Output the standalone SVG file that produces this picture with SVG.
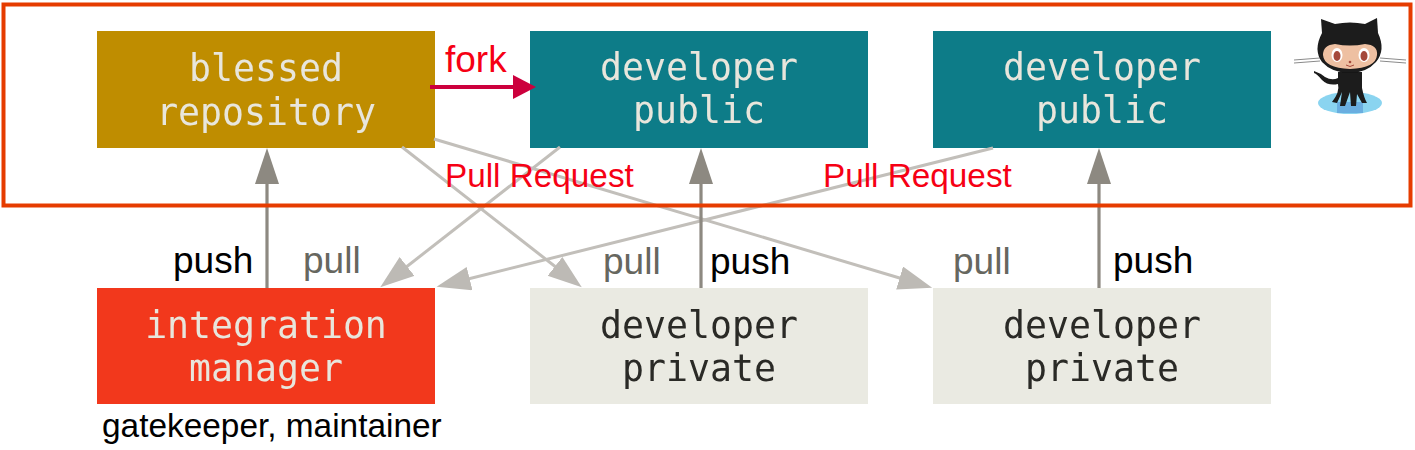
<svg xmlns="http://www.w3.org/2000/svg" width="1415" height="450" viewBox="0 0 1415 450">
<style>
.mono{font-family:"DejaVu Sans Mono","Liberation Mono",monospace;font-size:36.500px;text-anchor:middle}
.sans{font-family:"Liberation Sans",Arial,sans-serif;font-size:37px}
.rq{font-family:"Liberation Sans",Arial,sans-serif;font-size:33.300px;fill:#f60014}
.light{fill:#e8e6dc}.dark{fill:#2a2926}
.up{stroke:#8d8981;stroke-width:3.200;fill:none;marker-end:url(#up)}
.dn{stroke:#c2bfba;stroke-width:3;fill:none;marker-end:url(#dn)}
.blk{fill:#000}.gr{fill:#67675f}
.soft{filter:url(#soft)}
.softer{filter:url(#softer)}
</style>
<defs>
<filter id="soft" x="-5%" y="-5%" width="110%" height="110%"><feGaussianBlur stdDeviation="0.650"/></filter>
<filter id="softer" x="-5%" y="-5%" width="110%" height="110%"><feGaussianBlur stdDeviation="0.350"/></filter>
<marker id="up" markerUnits="userSpaceOnUse" markerWidth="40" markerHeight="28" refX="19" refY="12" orient="auto"><path d="M0 0L36 12L0 24Z" fill="#8d8981"/></marker>
<marker id="dn" markerUnits="userSpaceOnUse" markerWidth="38" markerHeight="28" refX="14" refY="12" orient="auto"><path d="M0 0L34 12L0 24Z" fill="#bdbab5"/></marker>
<marker id="red" markerUnits="userSpaceOnUse" markerWidth="26" markerHeight="26" refX="11" refY="12" orient="auto"><path d="M0 0L23 12L0 24Z" fill="#cc003d"/></marker>
</defs>
<g id="blessed" class="soft"><rect x="97" y="31" width="338" height="117" fill="#bf8d06"/><text class="mono light" x="266" y="81">blessed</text><text class="mono light" x="266" y="125">repository</text></g>
<g id="public1" class="soft"><rect x="530" y="31" width="338" height="117" fill="#117c88"/><text class="mono light" x="699" y="80">developer</text><text class="mono light" x="699" y="123">public</text></g>
<g id="public2" class="soft"><rect x="933" y="31" width="338" height="117" fill="#117c88"/><text class="mono light" x="1102" y="80">developer</text><text class="mono light" x="1102" y="123">public</text></g>
<g id="manager" class="soft"><rect x="97" y="288" width="338" height="116" fill="#f2371f"/><text class="mono light" x="266" y="338">integration</text><text class="mono light" x="266" y="381">manager</text></g>
<g id="private1" class="soft"><rect x="530" y="288" width="338" height="116" fill="#eaeae2"/><text class="mono dark" x="699" y="338">developer</text><text class="mono dark" x="699" y="381">private</text></g>
<g id="private2" class="soft"><rect x="933" y="288" width="338" height="116" fill="#eaeae2"/><text class="mono dark" x="1102" y="338">developer</text><text class="mono dark" x="1102" y="381">private</text></g>
<g id="connectors">
<path class="dn" d="M402 147L566 275"/>
<path class="dn" d="M434 139L913 282"/>
<path class="dn" d="M560 147L396 275"/>
<path class="dn" d="M993 148L456 282"/>
<path class="up" d="M267 288V165"/>
<path class="up" d="M701 288V165"/>
<path class="up" d="M1099 288V165"/>
<path d="M430 87H524" stroke="#cc003d" stroke-width="4" fill="none" marker-end="url(#red)"/>
</g>
<rect id="frame" x="3.500" y="4.500" width="1407" height="201" fill="none" stroke="#e63c00" stroke-width="4"/>
<g id="labels">
<text class="sans" x="445" y="72" fill="#f60014">fork</text>
<text class="rq" x="445" y="187">Pull Request</text>
<text class="rq" x="823" y="187">Pull Request</text>
<text class="sans blk" x="173" y="273">push</text>
<text class="sans gr" x="303" y="273">pull</text>
<text class="sans gr" x="603" y="274">pull</text>
<text class="sans blk" x="710" y="274">push</text>
<text class="sans gr" x="953" y="274">pull</text>
<text class="sans blk" x="1113" y="273">push</text>
<text x="102" y="437" font-family="'Liberation Sans',Arial,sans-serif" font-size="33.400" fill="#000">gatekeeper, maintainer</text>
</g>
<g id="octocat" class="softer">
<ellipse cx="1350" cy="103" rx="32" ry="11" fill="#8ad4f0"/>
<path d="M1337 102h26v11h-26z" fill="#6aaee0"/>
<path d="M1294 60L1320 58M1294 63L1320 61M1406 60L1380 58M1406 63L1380 61" stroke="#8a8a8a" stroke-width="1" fill="none"/>
<path d="M1338 72H1362L1362 88Q1364 98 1367 103L1362 103L1357 94L1356 106H1351L1350 92L1345 106H1340L1342 92L1337 103L1332 102Q1340 92 1338 84Q1328 86 1322 80Q1317 74 1314 73L1314 71Q1320 73 1325 77Q1332 81 1338 78Z" fill="#1a1a1a"/>
<path d="M1322 33L1321 19L1335 24Q1350 21 1365 24L1377 18L1378 33Q1386 50 1376 62Q1366 73 1350 73Q1332 73 1322 62Q1313 50 1322 33Z" fill="#1a1a1a"/>
<path d="M1323 55Q1323 45 1335 44Q1350 47 1365 44Q1378 45 1377 55Q1376 68 1350 69Q1324 68 1323 55Z" fill="#eec0a2"/>
<ellipse cx="1337" cy="55" rx="5.500" ry="7" fill="#fff"/><ellipse cx="1364" cy="55" rx="5.500" ry="7" fill="#fff"/>
<ellipse cx="1337" cy="56" rx="3.500" ry="5" fill="#a5483a"/><ellipse cx="1364" cy="56" rx="3.500" ry="5" fill="#a5483a"/>
<circle cx="1350" cy="62" r="1.300" fill="#a5483a"/>
<path d="M1346 65Q1350 68 1354 65" stroke="#a5483a" stroke-width="1" fill="none"/>
</g>
</svg>
